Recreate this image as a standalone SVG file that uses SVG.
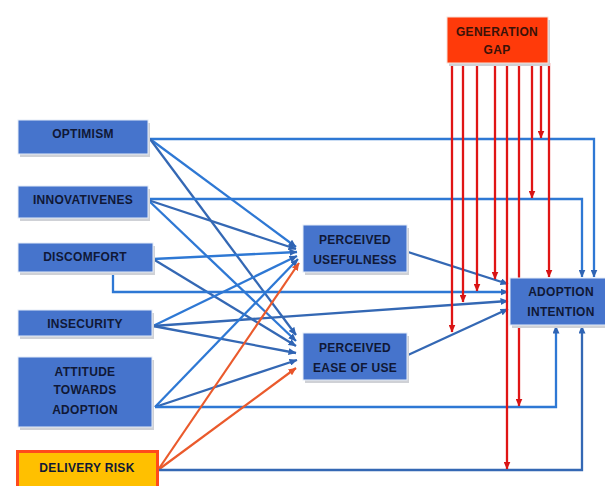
<svg xmlns="http://www.w3.org/2000/svg" width="605" height="486" viewBox="0 0 605 486">
<defs>
<marker id="ab" markerUnits="userSpaceOnUse" markerWidth="8" markerHeight="7" refX="7.5" refY="3.5" orient="auto"><path d="M0,0 L8,3.5 L0,7 z" fill="#2f64b4"/></marker>
<marker id="ar" markerUnits="userSpaceOnUse" markerWidth="8" markerHeight="7" refX="7.5" refY="3.5" orient="auto"><path d="M0,0 L8,3.5 L0,7 z" fill="#d81414"/></marker>
<marker id="ao" markerUnits="userSpaceOnUse" markerWidth="8" markerHeight="7" refX="7.5" refY="3.5" orient="auto"><path d="M0,0 L8,3.5 L0,7 z" fill="#e8542a"/></marker>
</defs>
<style>
.bl{fill:none;stroke:#2e78d4;stroke-width:2.3;marker-end:url(#ab)}
.bd{fill:none;stroke:#3468b4;stroke-width:2.3;marker-end:url(#ab)}
.rd{fill:none;stroke:#e01515;stroke-width:2.3;marker-end:url(#ar)}
.or{fill:none;stroke:#ea5a2c;stroke-width:2.2;marker-end:url(#ao)}
.box{fill:#4674cc;stroke:#e4ecf8;stroke-width:1}
.sh{fill:#cfd1d6}
.t{font-family:"Liberation Sans",Arial,sans-serif;font-weight:bold;font-size:12px;fill:#101836;text-anchor:middle;letter-spacing:0.3px}
</style>
<rect width="605" height="486" fill="#ffffff"/>
<g id="connectors">
<polyline class="bl" points="150,139 594,139 594,277"/>
<line class="bl" x1="150" y1="139" x2="296" y2="247"/>
<line class="bd" x1="150" y1="139" x2="296" y2="335"/>
<polyline class="bl" points="148,199 582,199 582,277"/>
<line class="bd" x1="148" y1="200" x2="296" y2="249"/>
<line class="bl" x1="148" y1="200" x2="296" y2="341"/>
<line class="bl" x1="153" y1="259" x2="297" y2="252"/>
<line class="bd" x1="153" y1="259" x2="296" y2="346"/>
<polyline class="bl" points="113,272 113,292 508,292"/>
<line class="bl" x1="153" y1="326" x2="297" y2="256"/>
<line class="bd" x1="153" y1="326" x2="296" y2="353"/>
<line class="bd" x1="153" y1="326" x2="508" y2="301"/>
<line class="bl" x1="155" y1="407" x2="298" y2="259"/>
<line class="bd" x1="155" y1="407" x2="297" y2="360"/>
<polyline class="bl" points="155,407 556,407 556,326"/>
<line class="or" x1="158" y1="470" x2="299" y2="263"/>
<line class="or" x1="158" y1="470" x2="296" y2="368"/>
<polyline class="bd" points="158,470 582,470 582,326"/>
<line class="bd" x1="408" y1="252" x2="508" y2="284"/>
<line class="bd" x1="408" y1="355" x2="508" y2="309"/>
<line class="rd" x1="452" y1="63" x2="452" y2="332"/>
<line class="rd" x1="463" y1="63" x2="463" y2="302"/>
<line class="rd" x1="477" y1="63" x2="477" y2="291"/>
<line class="rd" x1="495" y1="63" x2="495" y2="279"/>
<line class="rd" x1="507" y1="63" x2="507" y2="469"/>
<line class="rd" x1="519" y1="63" x2="519" y2="406"/>
<line class="rd" x1="532" y1="63" x2="532" y2="198"/>
<line class="rd" x1="541" y1="63" x2="541" y2="138"/>
<line class="rd" x1="549" y1="63" x2="549" y2="277"/>
</g>
<g id="optimism"><rect class="sh" x="20" y="123" width="130" height="34"/><rect class="box" x="18" y="120" width="130" height="34"/><text class="t" x="83" y="138">OPTIMISM</text></g>
<g id="innovativeness"><rect class="sh" x="20" y="189" width="130" height="32"/><rect class="box" x="18" y="186" width="130" height="32"/><text class="t" x="83" y="204">INNOVATIVENES</text></g>
<g id="discomfort"><rect class="sh" x="20" y="246" width="135" height="29"/><rect class="box" x="18" y="243" width="135" height="29"/><text class="t" x="85" y="261">DISCOMFORT</text></g>
<g id="insecurity"><rect class="sh" x="20" y="313" width="134" height="26"/><rect class="box" x="18" y="310" width="134" height="26"/><text class="t" x="85" y="328">INSECURITY</text></g>
<g id="attitude"><rect class="sh" x="20" y="360" width="134" height="70"/><rect class="box" x="18" y="357" width="134" height="70"/><text class="t" x="85" y="376">ATTITUDE</text><text class="t" x="85" y="394">TOWARDS</text><text class="t" x="85" y="414">ADOPTION</text></g>
<g id="delivery-risk"><rect x="17.5" y="451.5" width="140" height="40" fill="#ffc000" stroke="#ff4a1c" stroke-width="3"/><text class="t" x="87" y="472">DELIVERY RISK</text></g>
<g id="perceived-usefulness"><rect class="sh" x="305" y="228" width="104" height="47"/><rect class="box" x="303" y="225" width="104" height="47"/><text class="t" x="355" y="244">PERCEIVED</text><text class="t" x="355" y="264">USEFULNESS</text></g>
<g id="perceived-ease-of-use"><rect class="sh" x="305" y="336" width="104" height="47"/><rect class="box" x="303" y="333" width="104" height="47"/><text class="t" x="355" y="352">PERCEIVED</text><text class="t" x="355" y="372">EASE OF USE</text></g>
<g id="adoption-intention"><rect class="sh" x="512" y="281" width="95" height="47"/><rect class="box" x="510" y="278" width="96" height="47"/><text class="t" x="561" y="296">ADOPTION</text><text class="t" x="561" y="316">INTENTION</text></g>
<g id="generation-gap"><rect class="sh" x="449" y="20" width="101" height="46"/><rect x="447" y="17" width="101" height="46" fill="#ff3a0a" stroke="#f6e0d8" stroke-width="1"/><text class="t" x="497" y="36" style="fill:#3a1208">GENERATION</text><text class="t" x="497" y="54" style="fill:#3a1208">GAP</text></g>
</svg>
